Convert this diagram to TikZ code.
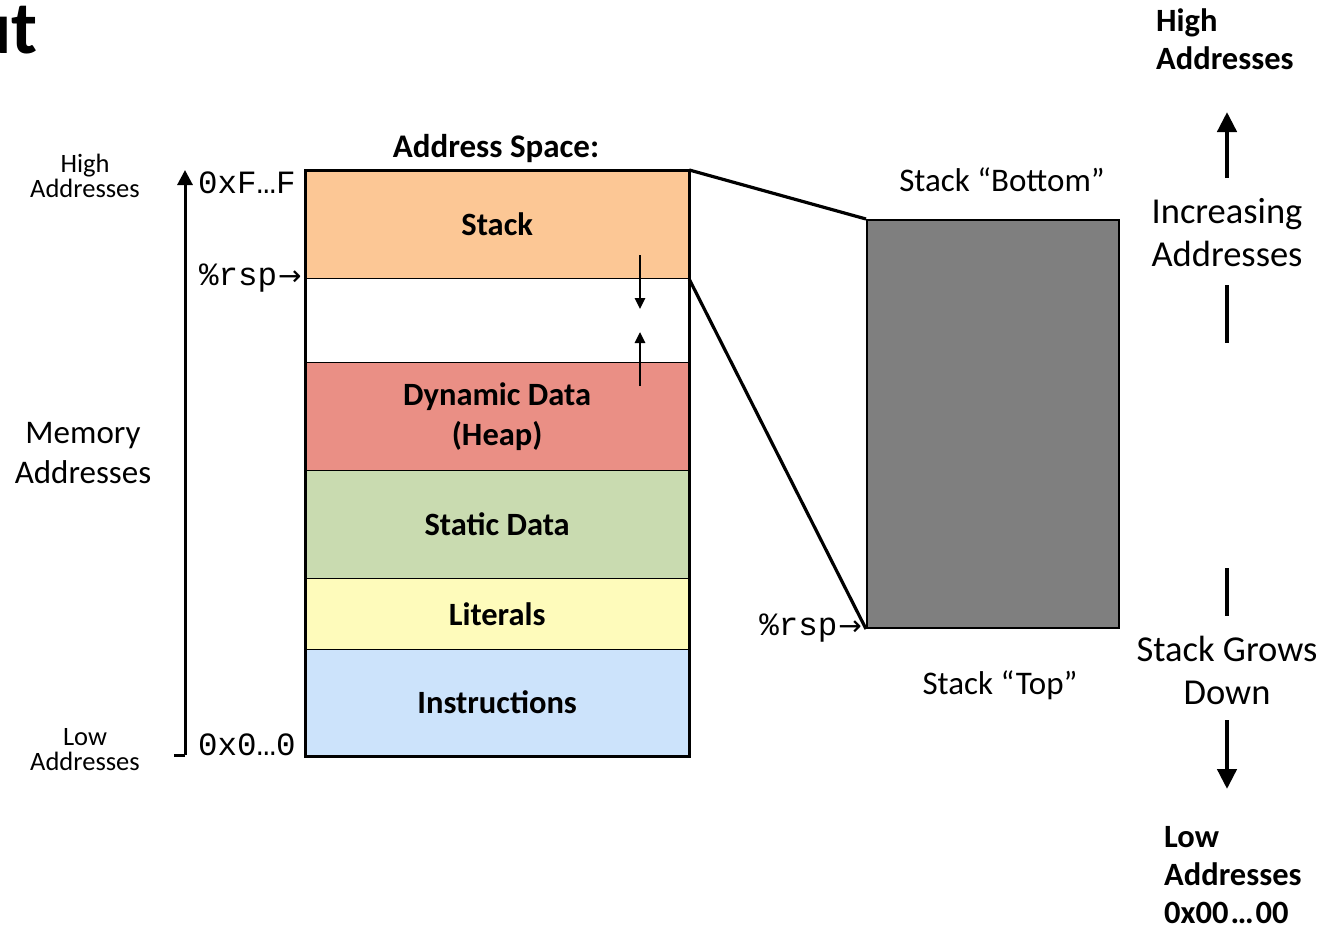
\documentclass[tikz,border=0pt]{standalone}
\usepackage{fontspec}
\setmainfont{Carlito}
\newfontfamily\monof{Liberation Mono}
\newfontfamily\symf{DejaVu Sans}
\usetikzlibrary{arrows.meta}
\definecolor{cstack}{HTML}{FCC795}
\definecolor{cheap}{HTML}{EA8F85}
\definecolor{cstatic}{HTML}{C9DBB0}
\definecolor{clit}{HTML}{FEFBBB}
\definecolor{cinstr}{HTML}{CCE3FB}
\definecolor{cgray}{HTML}{7F7F7F}
\newcommand{\fs}[2]{\fontsize{#1}{#2}\selectfont}
\newcommand{\rarr}{\kern1pt{\symf\fontsize{28}{28}\selectfont →}}
\tikzset{
  region/.style={draw=black, line width=1.3pt, minimum width=383pt, inner sep=0pt, font=\fs{32.5}{40}\bfseries, align=center},
  txt/.style={inner sep=0pt, align=center},
  mono/.style={inner sep=0pt, font=\fs{32.5}{36}\monof},
  bigarrow/.style={line width=4.5pt, -{Triangle[length=20pt,width=19pt]}},
  bigline/.style={line width=4.5pt},
  link/.style={line width=3.2pt},
}
\begin{document}
\begin{tikzpicture}[x=1pt,y=-1pt]
\useasboundingbox (0,0) rectangle (1320,930);
% title fragment
\node[txt, anchor=base east, font=\fs{75}{80}\bfseries] (title) at (38,53) {ut};
% regions
\node[region, fill=cstack, minimum height=108pt, anchor=north west] (stack) at (305,170) {Stack};
\node[region, fill=white, minimum height=84pt, anchor=north west] (gap) at (305,278) {};
\node[region, fill=cheap, minimum height=108pt, anchor=north west] (heap) at (305,362) {Dynamic Data\\(Heap)};
\node[region, fill=cstatic, minimum height=108pt, anchor=north west] (static) at (305,470) {Static Data};
\node[region, fill=clit, minimum height=71pt, anchor=north west] (lit) at (305,578) {Literals};
\node[region, fill=cinstr, minimum height=106pt, anchor=north west] (instr) at (305,649) {Instructions};
\draw[line width=3pt] (stack.north west) rectangle (instr.south east);
\node[txt, font=\fs{33}{36}\bfseries] (as) at (496,149) {Address Space:};
% growth arrows
\coordinate (sd1) at (640,255); \coordinate (sd2) at (640,309);
\coordinate (hu1) at (640,386); \coordinate (hu2) at (640,332);
\draw[line width=2.5pt, -{Triangle[length=11pt,width=10pt]}] (sd1) -- (sd2);
\draw[line width=2.5pt, -{Triangle[length=11pt,width=10pt]}] (hu1) -- (hu2);
% left axis
\coordinate (axb) at (185,755); \coordinate (axt) at (185,170); \coordinate (axl) at (174,755);
\draw[line width=3pt, -{Triangle[length=15pt,width=15pt]}] (axb) -- (axt);
\draw[line width=3pt] (axl) -- (axb);
\node[mono, anchor=west] (hi) at (198,183) {0xF…F};
\node[mono, anchor=west] (lo) at (198,745) {0x0…0};
\node[mono, anchor=west] (rsp1) at (199,278) {\%rsp\rarr};
\node[txt, font=\fs{26.5}{25}] (hiaddr) at (85,176) {High\\Addresses};
\node[txt, font=\fs{33}{40}] (memaddr) at (83,453) {Memory\\Addresses};
\node[txt, font=\fs{26.5}{25}] (loaddr) at (85,750) {Low\\Addresses};
% zoomed stack
\node[draw=black, line width=2pt, fill=cgray, minimum width=252pt, minimum height=408pt, inner sep=0pt, anchor=north west] (gray) at (866,219) {};
\draw[link] (stack.north east) -- (gray.north west);
\draw[link] (stack.south east) -- (gray.south west);
\node[txt, font=\fs{33}{36}] (sbot) at (1002,180) {Stack “Bottom”};
\node[txt, font=\fs{33}{36}] (stop) at (1000,685) {Stack “Top”};
\node[mono, anchor=east] (rsp2) at (862,628) {\%rsp\rarr};
% right column
\node[txt, font=\fs{32.5}{38}\bfseries, align=left, anchor=west] (hiR) at (1156,39) {High\\Addresses};
\coordinate (ua1) at (1227,178); \coordinate (ua2) at (1227,112);
\draw[bigarrow] (ua1) -- (ua2);
\node[txt, font=\fs{36.5}{43}] (inc) at (1227,233) {Increasing\\Addresses};
\coordinate (ul1) at (1227,285); \coordinate (ul2) at (1227,343);
\draw[bigline] (ul1) -- (ul2);
\coordinate (dl1) at (1227,568); \coordinate (dl2) at (1227,616);
\draw[bigline] (dl1) -- (dl2);
\node[txt, font=\fs{36.5}{43}] (grows) at (1227,670) {Stack Grows\\Down};
\coordinate (da1) at (1227,720); \coordinate (da2) at (1227,789);
\draw[bigarrow] (da1) -- (da2);
\node[txt, font=\fs{32.5}{38}\bfseries, align=left, anchor=west] (loR) at (1164,875) {Low\\Addresses\\0x00\kern2pt…\kern2pt00};
\end{tikzpicture}
\end{document}
